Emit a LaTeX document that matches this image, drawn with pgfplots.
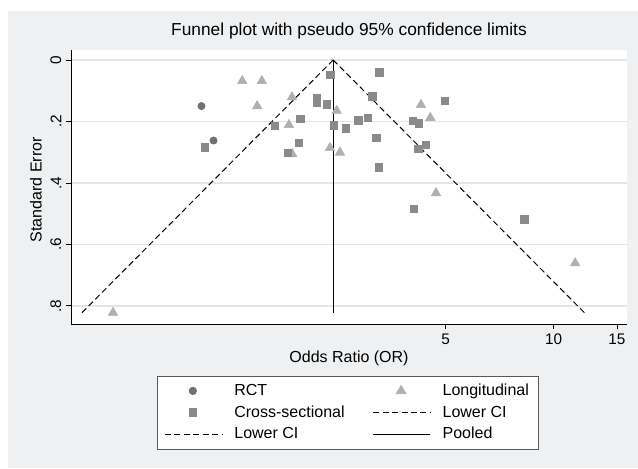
\documentclass[border=0pt]{standalone}
\usepackage{fontspec}
\setmainfont{Liberation Sans}
\usepackage{pgfplots}
\usepackage{pgfplotstable}
\pgfplotsset{compat=1.18}

\definecolor{bggray}{RGB}{238,240,242}
\definecolor{gridgray}{RGB}{228,229,230}
\definecolor{rctcol}{RGB}{112,112,112}
\definecolor{sqcol}{RGB}{138,138,140}
\definecolor{tricol}{RGB}{176,176,178}

% odds ratio, standard error
\pgfplotstableread{
or se
1.044 0.150
1.128 0.262
}\rct
\pgfplotstableread{
or se
1.356 0.068
1.538 0.068
1.492 0.150
1.865 0.121
1.829 0.211
1.869 0.306
2.485 0.165
2.380 0.286
2.537 0.301
4.268 0.146
4.530 0.188
4.699 0.433
0.592 0.822
11.47 0.661
}\longit
\pgfplotstableread{
or se
1.067 0.284
1.967 0.191
1.669 0.215
1.950 0.269
1.817 0.301
2.185 0.122
2.185 0.139
2.385 0.048
3.265 0.040
2.334 0.144
3.121 0.118
2.442 0.212
2.637 0.222
2.854 0.196
3.031 0.188
3.203 0.254
3.259 0.349
4.977 0.133
4.046 0.198
4.213 0.206
4.407 0.276
4.195 0.289
4.072 0.484
8.282 0.518
}\cross

\pgfplotsset{
  markleg/.style={legend image code/.code={\draw[##1] plot coordinates {(21pt,0pt)};}},
  lineleg/.style={legend image code/.code={\draw[##1] (0pt,0pt) -- (42.75pt,0pt);}},
}

\begin{document}
\begin{tikzpicture}
\fill[white] (0pt,0pt) rectangle (478.5pt,-351pt);
\fill[bggray] (6pt,-8.25pt) rectangle (478.5pt,-351pt);
\begin{axis}[
  at={(53.25pt,-243pt)}, anchor=south west,
  scale only axis, width=417pt, height=205.5pt,
  axis background/.style={fill=white},
  xmode=log, xmin=0.452, xmax=16.0,
  y dir=reverse, ymin=-0.0325, ymax=0.859,
  axis x line*=bottom, axis y line*=left,
  axis line style={-, black, line width=0.6pt},
  every outer x axis line/.append style={-},
  every outer y axis line/.append style={-},
  xtick={5,10,15}, xticklabels={5,10,15}, minor xtick={},
  ytick={0,0.2,0.4,0.6,0.8}, yticklabels={0,.2,.4,.6,.8},
  tick align=outside, major tick length=3.75pt,
  tick style={black, line width=0.6pt},
  ymajorgrids, grid style={gridgray, line width=1.1pt},
  /pgf/number format/assume math mode=true,
  ticklabel style={font=\fontsize{11.5}{13}\selectfont},
  yticklabel style={rotate=90, anchor=south},
  title={Funnel plot with pseudo 95\% confidence limits},
  title style={at={(axis description cs:0.5,1.0245)}, anchor=base, font=\fontsize{13}{15}\selectfont},
  xlabel={Odds Ratio (OR)},
  xlabel style={at={(axis description cs:0.5,-0.1387)}, anchor=base, font=\fontsize{12}{14}\selectfont},
  ylabel={Standard Error},
  ylabel style={at={(axis description cs:-0.0527,0.49)}, anchor=base, rotate=0, font=\fontsize{12}{14}\selectfont},
  legend columns=2,
  legend cell align=left,
  legend style={
    at={(axis description cs:0.1552,-0.1887)}, anchor=north west,
    draw={rgb,255:red,90;green,90;blue,90}, line width=0.6pt, fill=white,
    font=\fontsize{12}{14}\selectfont,
    inner xsep=5pt, inner ysep=4pt, row sep=2pt,
    /tikz/every odd column/.append style={column sep=7pt},
    /tikz/every even column/.append style={column sep=19pt},
  },
]
\addplot[only marks, mark=*, mark size=2.75pt, color=rctcol, mark options={draw=rctcol, fill=rctcol}, markleg] table[x=or, y=se] {\rct};
\addlegendentry{RCT}
\addplot[only marks, mark=triangle*, mark size=4.1pt, color=tricol, mark options={draw=tricol, fill=tricol}, markleg] table[x=or, y=se] {\longit};
\addlegendentry{Longitudinal}
\addplot[only marks, mark=square*, mark size=2.75pt, color=sqcol, mark options={draw=sqcol, fill=sqcol}, markleg] table[x=or, y=se] {\cross};
\addlegendentry{Cross-sectional}
\addplot[black, line width=0.75pt, dash pattern=on 4.5pt off 2.6pt, lineleg] coordinates {(2.43,0) (0.485,0.822)};
\addlegendentry{Lower CI}
\addplot[black, line width=0.75pt, dash pattern=on 4.5pt off 2.6pt, lineleg] coordinates {(2.43,0) (12.17,0.822)};
\addlegendentry{Lower CI}
\addplot[black, line width=0.75pt, lineleg] coordinates {(2.43,0) (2.43,0.822)};
\addlegendentry{Pooled}
\end{axis}
\pgfresetboundingbox
\useasboundingbox (0pt,0pt) rectangle (478.5pt,-351pt);
\end{tikzpicture}
\end{document}
